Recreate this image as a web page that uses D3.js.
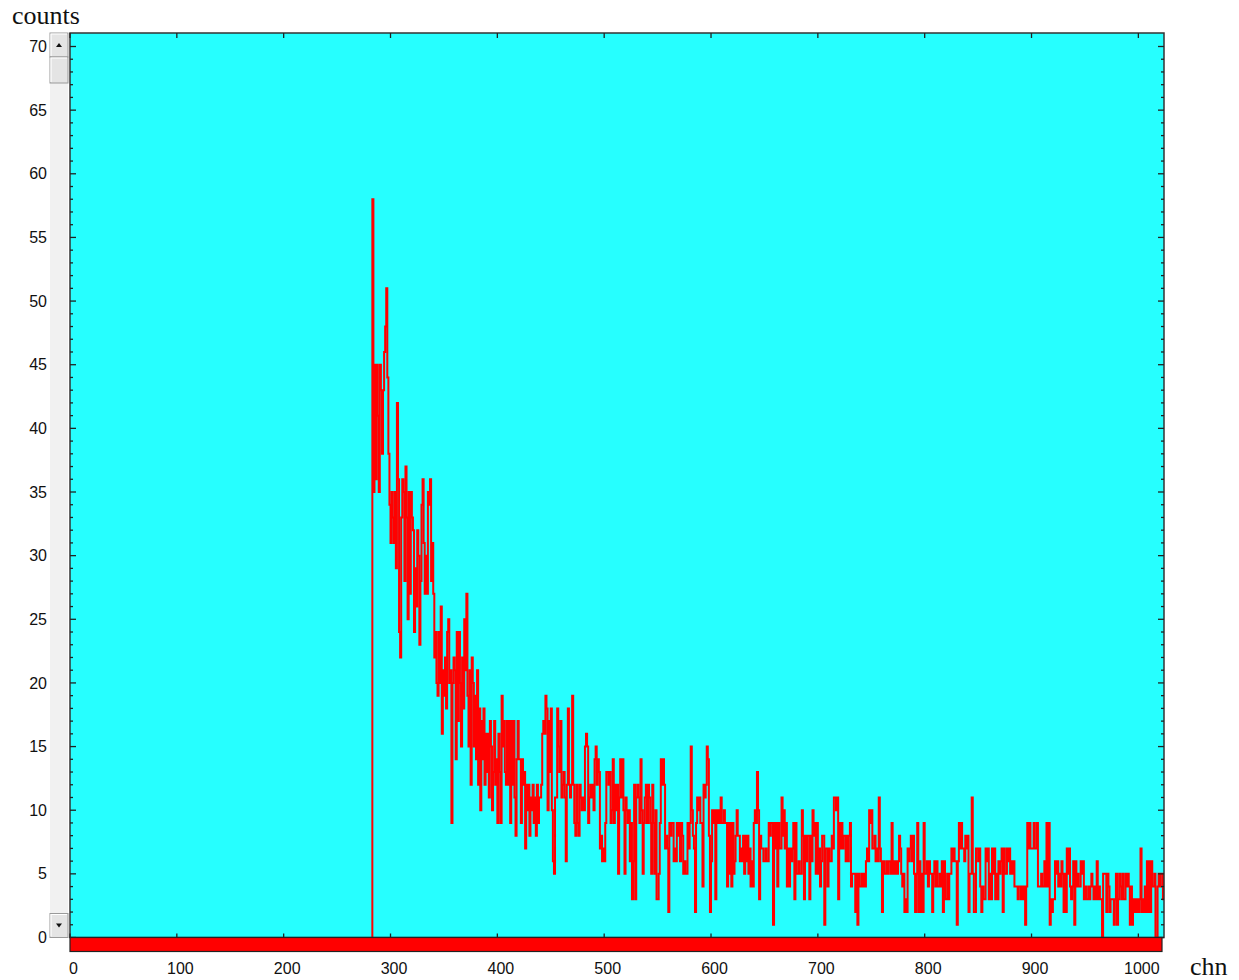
<!DOCTYPE html>
<html lang="en">
<head>
<meta charset="UTF-8">
<title>counts / chn</title>
<script src="https://d3js.org/d3.v7.min.js"></script>
<style>
  body { margin: 0; background: #fff; }
  .lbl { font-family: Arial, "Liberation Sans", sans-serif; font-size: 16px; fill: #111; }
  .name { font-family: "Times New Roman", "Liberation Serif", serif; font-size: 26px; fill: #111; }
</style>
</head>
<body>
<div id="chart"></div>
<script>
// spectrum: counts per channel, starting at channel 283 (all lower channels are empty)
const firstChn = 283;
const counts = [
  // 283-402
  58,35,45,36,45,41,35,45,43,38,43,46,48,51,44,38,34,31,35,33,
  31,35,29,42,36,24,22,33,36,35,28,37,33,25,35,27,35,33,32,24,
  29,26,32,30,23,28,34,36,31,27,30,27,35,34,36,28,31,27,22,24,
  20,19,24,20,26,16,21,19,22,18,24,25,20,21,9,20,22,21,14,24,
  17,24,20,15,22,18,25,21,27,19,15,21,12,22,20,15,19,14,21,12,
  18,10,17,14,18,12,16,13,16,11,17,15,10,13,17,12,14,9,16,13,
  // 403-590
  9,19,15, 17,13,12,17, 12,17,9,17,12,17,11, 8,14,17, 14,14,9,14,12,13, 7,
  12,10,12,8,11,10,12, 9,11,8,12,9,11, 11,12,16, 17,16,19,18,10,17,13,
  18,10,6,5,11, 11,18,15,13,17,11,12,13,11,6,12,18,12,11,12,19,12,9,8,
  12,9,8,12, 11,10,11, 10,15,16,15, 9,11,12,11,12,10, 14,15,12,14,13,
  7,8,6,7,6,9,13, 13,12,13,9,10, 14,9,12, 10,12,5,11,14, 11,14,10,5,11,
  10,9,10,6,9,3,6, 12,3,11,12,11,9, 14,10,5,9,11, 12,9,12,11,9,5,12,
  9,5,10,3, 3,5,9, 14,12,14,12, 7,8,7,2, 9,8,9,9, 6,7,6, 9,8,9,6,9,8,
  5,6,5,5, 9,7,9, 15,10,8, 7,2,9, 11,10,11,9,
  // 591-805
  9,4, 12,11,12, 15,14,8, 2,6, 10,9,10, 3,10, 9,10,9, 11,9, 9,10,9,
  9,4,9,5,9,4,9, 5,6, 8,10,8, 8,6,7,6, 8,5,8,6,8,5,7, 4,6,4, 9,10,9,
  13,10,3, 8,7,7, 6,6,7,6,6, 9,8,9,9, 1,9,7, 9,4,9,7, 7,11,8, 10,7,9,
  4,7,4, 7,6,7, 9,3,9,5, 5,6,5,5, 10,8,3, 8,6,8, 8,3,8,6, 10,8,9,5,
  9,5,7, 4,6,8, 8,1,7, 7,4,7,6, 6,8,7, 11,11,10,11,3,9, 7,9,7,8,
  8,6,8,6,8, 9,4,5, 5,5,2,5,1,5,4,4,5,
  4,5,4,6,7,6,10,9,10,7, 7,8,6,7,6,11,7,6,2,6, 5,5,6,5,6,6,5,9,5,6,
  5,6,5,6,8,7,5,4,5,2, 3,2,7,6,7,8,6,8,5,2, 5,9,2,6,2,5,2,9,5,5, 6,4,6,5,
  // 806-1024
  5,2,5, 6,4,6, 4,4,5,4, 6,2,6,3, 3,5,3,5,5, 7,6,7,6,6, 1,6, 9,7,9,7,7,
  6,8,7,8, 2,5,5, 11,5,2, 2, 7,7,6,7, 4,2,4,3,3, 7,6,7, 3,5,3, 7,5,7,
  3,5,3, 6,5,6, 7,2,7,5,5, 7,6,7, 5,6,5,6,4, 4,4,3,4,4, 3,4,3, 4,1,4,
  9,7,9, 7,7,7,9,7,7, 9,4,4, 4,5,4,4,6,4, 9,4,9, 1,3,2,3, 3,6,5,6,
  4,5,4,6,5, 2,5,2, 7,5,7, 4,3,4, 6,1,6, 4,5,4,4, 6,5,6, 3,4,3,3,4,3,
  4,5,4, 3,4,3, 6, 3,4,3, 3,0,5,5, 5,2,5,4,2,3,3, 3,1,3,5,1,3,
  5,4,3,5,3,3, 5,4,5,4,1,4, 1,3,2,3,2,3,2, 3,7,2,3, 2,4,2,6,2,6,2,
  6,4,4,5,0, 0,4,5,4,5,5,3,5
];
const xTicks = [0, 100, 200, 300, 400, 500, 600, 700, 800, 900, 1000];
const yTicks = [0, 5, 10, 15, 20, 25, 30, 35, 40, 45, 50, 55, 60, 65, 70];
const xName = "chn", yName = "counts";

const W = 1239, H = 980;
const pLeft = 70, pRight = 1164, pTop = 33, pBottom = 937.5;

const x = d3.scaleLinear().domain([0, 1024]).range([pLeft, pRight]);
const y = d3.scaleLinear().domain([0, 70]).range([pBottom, 46.5]);

const svg = d3.select("#chart").append("svg")
  .attr("width", W).attr("height", H);

// plot background
svg.append("rect")
  .attr("x", pLeft).attr("y", pTop)
  .attr("width", pRight - pLeft).attr("height", pBottom - pTop)
  .attr("fill", "#26ffff");

svg.append("clipPath").attr("id", "clip")
  .append("rect")
  .attr("x", pLeft).attr("y", pTop)
  .attr("width", pRight - pLeft).attr("height", pBottom - pTop);

// histogram as a step line
const pts = [[firstChn, 0]].concat(counts.map((c, i) => [firstChn + i, c]));
pts.push([firstChn + counts.length, counts[counts.length - 1]]);

const line = d3.line()
  .x(d => x(d[0]))
  .y(d => y(d[1]))
  .curve(d3.curveStepAfter);

svg.append("path")
  .attr("clip-path", "url(#clip)")
  .attr("d", line(pts))
  .attr("fill", "none")
  .attr("stroke", "#ff0000")
  .attr("stroke-width", 2);

// frame
svg.append("rect")
  .attr("x", pLeft).attr("y", pTop)
  .attr("width", pRight - pLeft).attr("height", pBottom - pTop)
  .attr("fill", "none")
  .attr("stroke", "#333")
  .attr("stroke-width", 1.5);

// y ticks, minor every 1, major every 5, both sides inward
const yMinor = d3.range(0, 71);
const tickStroke = "#222";
svg.append("g").selectAll("line").data(yMinor).join("line")
  .attr("x1", pLeft).attr("x2", d => pLeft + (d % 5 === 0 ? 6 : 3))
  .attr("y1", d => y(d)).attr("y2", d => y(d))
  .attr("stroke", tickStroke).attr("stroke-width", 1.3);
svg.append("g").selectAll("line").data(yMinor).join("line")
  .attr("x1", pRight).attr("x2", d => pRight - (d % 5 === 0 ? 6 : 3))
  .attr("y1", d => y(d)).attr("y2", d => y(d))
  .attr("stroke", tickStroke).attr("stroke-width", 1.3);

// x ticks top and bottom
svg.append("g").selectAll("line").data(xTicks).join("line")
  .attr("x1", d => x(d)).attr("x2", d => x(d))
  .attr("y1", pTop).attr("y2", pTop + 5)
  .attr("stroke", tickStroke).attr("stroke-width", 1.3);
svg.append("g").selectAll("line").data(xTicks).join("line")
  .attr("x1", d => x(d)).attr("x2", d => x(d))
  .attr("y1", pBottom).attr("y2", pBottom - 4)
  .attr("stroke", tickStroke).attr("stroke-width", 1.3);

// red band under the plot
svg.append("rect")
  .attr("x", pLeft).attr("y", pBottom)
  .attr("width", pRight - pLeft - 2).attr("height", 14)
  .attr("fill", "#ff0000")
  .attr("stroke", "#222").attr("stroke-width", 1.2);

// tick labels via axes
const yAxis = svg.append("g")
  .attr("transform", `translate(${pLeft},0)`)
  .call(d3.axisLeft(y).tickValues(yTicks).tickFormat(d3.format("d")).tickSize(0).tickPadding(23));
yAxis.select(".domain").remove();
yAxis.attr("font-family", null).attr("font-size", null);
yAxis.selectAll("text").attr("class", "lbl");

const xAxis = svg.append("g")
  .attr("transform", `translate(0,${pBottom})`)
  .call(d3.axisBottom(x).tickValues(xTicks).tickFormat(d3.format("d")).tickSize(0).tickPadding(25));
xAxis.select(".domain").remove();
xAxis.attr("font-family", null).attr("font-size", null);
xAxis.selectAll("text").attr("class", "lbl").attr("dx", 3);

// scrollbar at the left of the plot
const sb = svg.append("g");
const sbX = 50, sbW = 18;
sb.append("rect").attr("x", sbX).attr("y", pTop).attr("width", sbW).attr("height", pBottom - pTop)
  .attr("fill", "#f1f1f1");
function button(yy, h) {
  sb.append("rect").attr("x", sbX).attr("y", yy).attr("width", sbW).attr("height", h)
    .attr("fill", "#e4e4e4").attr("stroke", "#9a9a9a").attr("stroke-width", 1);
  sb.append("path")
    .attr("d", `M${sbX + 1},${yy + h - 1}V${yy + 1}H${sbX + sbW - 1}`)
    .attr("fill", "none").attr("stroke", "#fff").attr("stroke-width", 1.2);
}
button(pTop, 24);
button(57, 26);
button(pBottom - 24, 24);
sb.append("path").attr("d", `M${sbX + 6},${pTop + 14}L${sbX + 12},${pTop + 14}L${sbX + 9},${pTop + 10}Z`).attr("fill", "#111");
sb.append("path").attr("d", `M${sbX + 6},${pBottom - 14}L${sbX + 12},${pBottom - 14}L${sbX + 9},${pBottom - 10}Z`).attr("fill", "#111");

// axis names
svg.append("text").attr("class", "name").attr("x", 12).attr("y", 24).text(yName);
svg.append("text").attr("class", "name").attr("x", 1190).attr("y", 975).text(xName);
</script>
</body>
</html>
